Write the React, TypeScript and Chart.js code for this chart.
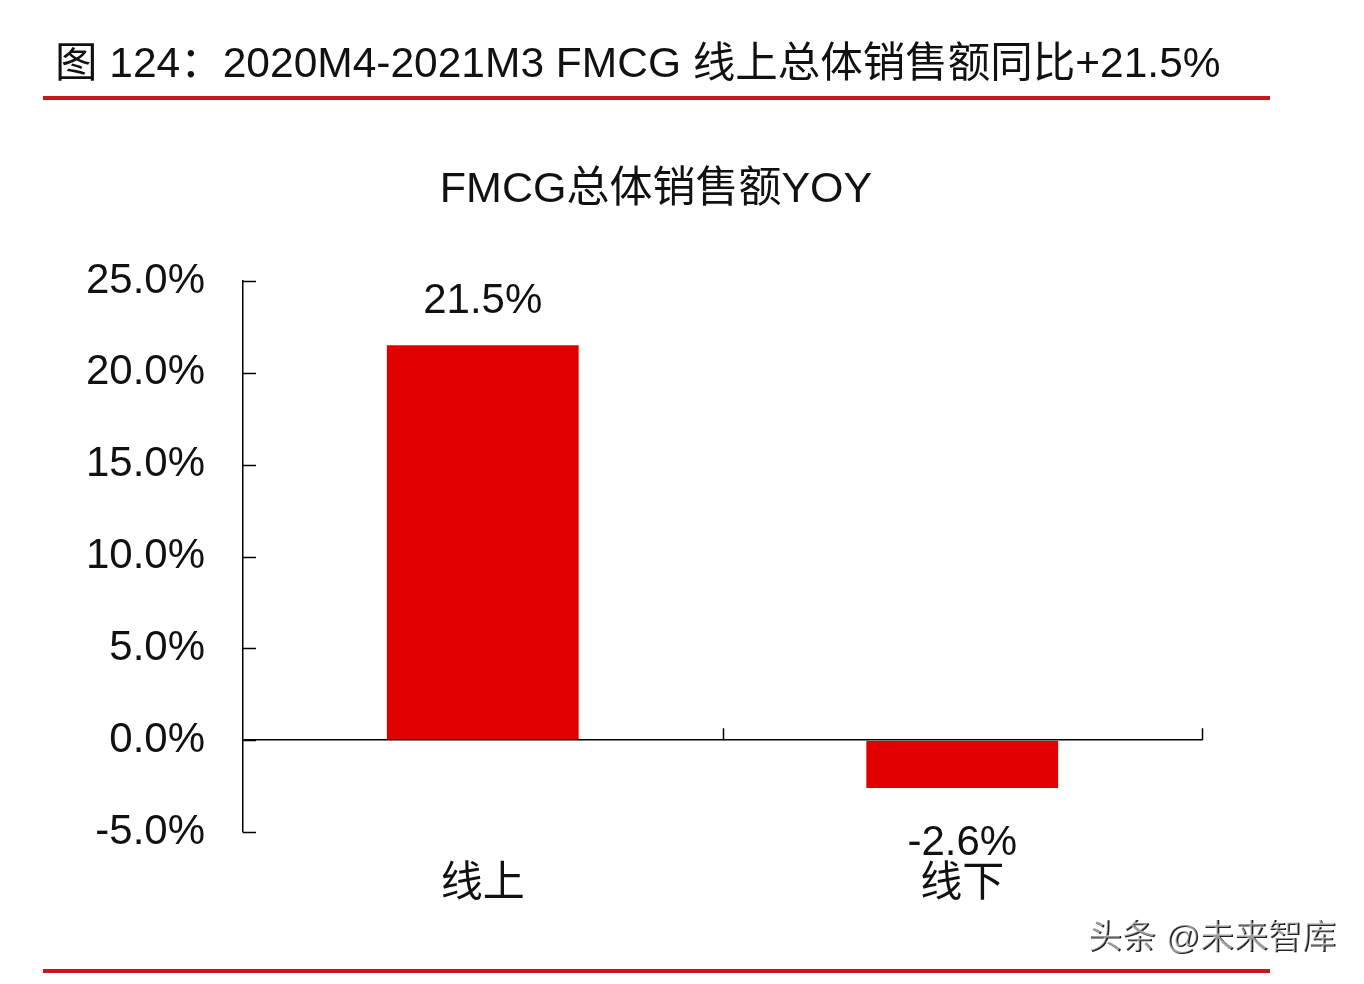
import React, { useEffect, useRef } from "react";
import { Chart, registerables } from "chart.js";

Chart.register(...registerables);

const headerTitle = "图 124：2020M4-2021M3 FMCG 线上总体销售额同比+21.5%";
const chartTitle = "FMCG总体销售额YOY";
const watermark = "头条 @未来智库";
const categories = ["线上", "线下"];
const yoyValues = [21.5, -2.6];
const yMin = -5;
const yMax = 25;
const yStep = 5;

const FONT = "'Liberation Sans', Arial, 'Noto Sans CJK SC', sans-serif";
const BAR_RED = "#E00000";
const LINE_RED = "#C8161D";

const decorPlugin = {
  id: "decor",
  beforeDraw(chart: any) {
    const ctx = chart.ctx;
    ctx.save();
    ctx.fillStyle = "#ffffff";
    ctx.fillRect(0, 0, chart.width, chart.height);
    // header
    ctx.fillStyle = "#111111";
    ctx.font = `42.5px ${FONT}`;
    ctx.textAlign = "left";
    ctx.textBaseline = "alphabetic";
    ctx.fillText(headerTitle, 55, 77);
    // red rules
    ctx.fillStyle = LINE_RED;
    ctx.fillRect(43, 96, 1227, 4);
    ctx.fillRect(43, 969, 1227, 4);
    // chart title
    ctx.fillStyle = "#111111";
    ctx.font = `43px ${FONT}`;
    ctx.textAlign = "center";
    ctx.fillText(chartTitle, 656, 202);
    // watermark
    ctx.font = `34px ${FONT}`;
    ctx.textAlign = "left";
    ctx.textBaseline = "middle";
    ctx.fillStyle = "#222222";
    ctx.fillText(watermark, 1089, 940);
    ctx.fillStyle = "rgba(255,255,255,0.55)";
    ctx.fillText(watermark, 1087.5, 938.5);
    ctx.restore();
  },
  afterDatasetsDraw(chart: any) {
    const ctx = chart.ctx;
    const meta = chart.getDatasetMeta(0);
    ctx.save();
    ctx.fillStyle = "#111111";
    ctx.font = `42px ${FONT}`;
    ctx.textAlign = "center";
    ctx.textBaseline = "alphabetic";
    meta.data.forEach((el: any, i: number) => {
      const v = yoyValues[i];
      const label = v.toFixed(1) + "%";
      if (v >= 0) ctx.fillText(label, el.x, el.y - 32);
      else ctx.fillText(label, el.x, el.y + 67);
    });
    ctx.restore();
  },
  afterDraw(chart: any) {
    const ctx = chart.ctx;
    const ys = chart.scales.y;
    const xs = chart.scales.x;
    const left = chart.chartArea.left;
    ctx.save();
    ctx.strokeStyle = "#000000";
    ctx.lineWidth = 1.5;
    ctx.beginPath();
    for (let v = yMin; v <= yMax; v += yStep) {
      const y = Math.round(ys.getPixelForValue(v)) + 0.5;
      ctx.moveTo(left, y);
      ctx.lineTo(left + 13, y);
    }
    const zeroY = ys.getPixelForValue(0);
    for (let i = 0; i < categories.length; i++) {
      const x = Math.round(xs.getPixelForValue(i + 0.5)) + 0.5;
      ctx.moveTo(x, zeroY);
      ctx.lineTo(x, zeroY - 12);
    }
    ctx.stroke();
    ctx.restore();
  },
};

export default function App() {
  const ref = useRef<HTMLCanvasElement | null>(null);
  useEffect(() => {
    if (!ref.current) return;
    const chart = new Chart(ref.current, {
      type: "bar",
      data: {
        labels: categories,
        datasets: [
          {
            data: yoyValues,
            backgroundColor: BAR_RED,
            borderWidth: 0,
            categoryPercentage: 1,
            barPercentage: 0.4,
          },
        ],
      },
      options: {
        responsive: false,
        animation: false,
        layout: { padding: { top: 281, right: 162, bottom: 52, left: 0 } },
        plugins: {
          legend: { display: false },
          title: { display: false },
          tooltip: { enabled: false },
        },
        scales: {
          x: {
            grid: { display: false },
            border: { display: false },
            ticks: {
              font: { family: FONT, size: 42 },
              color: "#111111",
              padding: 19,
              maxRotation: 0,
            },
            afterFit: (s: any) => {
              s.height = 100;
            },
          },
          y: {
            min: yMin,
            max: yMax,
            ticks: {
              stepSize: yStep,
              font: { family: FONT, size: 42 },
              color: "#111111",
              padding: 38,
              callback: (v: any) => Number(v).toFixed(1) + "%",
            },
            grid: {
              drawTicks: false,
              color: (c: any) => (c.tick && c.tick.value === 0 ? "#000000" : "rgba(0,0,0,0)"),
              lineWidth: 1.5,
            },
            border: { display: true, color: "#000000", width: 1.5 },
            afterFit: (s: any) => {
              s.width = 243;
            },
          },
        },
      },
      plugins: [decorPlugin],
    });
    return () => chart.destroy();
  }, []);
  return (
    <div style={{ position: "absolute", left: 0, top: 0, width: 1364, height: 984, background: "#fff" }}>
      <canvas ref={ref} width={1364} height={984} />
    </div>
  );
}
